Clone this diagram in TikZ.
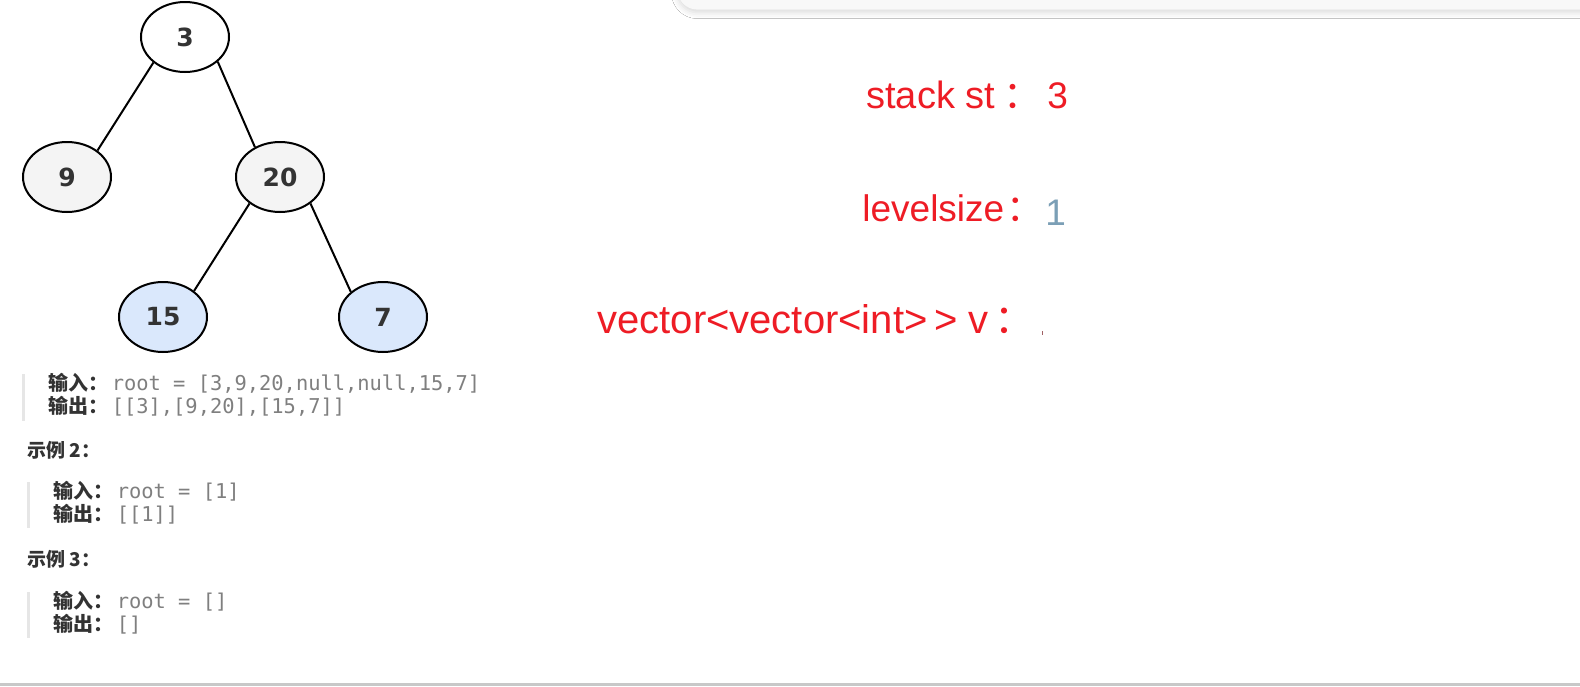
\documentclass[tikz,border=0pt]{standalone}
\usepackage{fontspec}
\setmainfont{Liberation Sans}
\newfontfamily\cjk{Noto Sans CJK SC}
\newfontfamily\code{DejaVu Sans Mono}
\newfontfamily\treefont{DejaVu Sans}
\usetikzlibrary{shapes.geometric,shadows.blur}
\usepackage{xcolor}
\definecolor{ink}{HTML}{333333}
\definecolor{codeGray}{HTML}{7F7F7F}
\definecolor{barGray}{HTML}{E6E6E6}
\definecolor{nodeGray}{HTML}{F4F4F4}
\definecolor{nodeBlue}{HTML}{DAE8FC}
\definecolor{alert}{HTML}{EE1C25}
\definecolor{valueBlue}{HTML}{7B9FB6}
\definecolor{panel}{HTML}{F8F8F8}
\definecolor{rule}{HTML}{C8C8C8}
\newcommand{\iolabel}[1]{{\cjk\bfseries\fontsize{10}{12}\selectfont\color{ink}#1}\,}
\tikzset{
  tnode/.style={ellipse, draw=black, line width=1pt, minimum width=44pt, minimum height=35pt, inner sep=0pt, font=\treefont\bfseries\fontsize{12.5}{15}\selectfont, text=ink},
  branch/.style={line width=1pt, draw=black},
  io/.style={anchor=base west, inner sep=0pt, text=codeGray, font=\code\fontsize{10.2}{12}\selectfont},
  example/.style={anchor=base west, inner sep=0pt, text=ink, font=\cjk\bfseries\fontsize{9.5}{11}\selectfont},
  quote/.style={fill=barGray},
  watch/.style={anchor=base west, inner sep=0pt, text=alert, font=\fontsize{19}{23}\selectfont},
  value/.style={watch, text=#1, font=\fontsize{18.5}{22}\selectfont},
}

\begin{document}
\begin{tikzpicture}[x=0.5pt,y=-0.5pt]
  \useasboundingbox (0,0) rectangle (1580,686);
  \fill[white] (0,0) rectangle (1580,686);

  \node[draw=none, fill=panel, rounded corners=10pt, minimum width=470pt, minimum height=20pt, anchor=south west, blur shadow={shadow xshift=0pt, shadow yshift=-1.5pt, shadow blur radius=3pt, shadow opacity=15}] (panel) at (677,10) {};

  \node[tnode, fill=white] (n3) at (185,37) {3};
  \node[tnode, fill=nodeGray] (n9) at (67,177) {9};
  \node[tnode, fill=nodeGray] (n20) at (280,177) {20};
  \node[tnode, fill=nodeBlue] (n15) at (163,317) {15};
  \node[tnode, fill=nodeBlue] (n7) at (383,317) {7};

  \draw[branch] (n3.219) -- (n9.41);
  \draw[branch] (n3.323) -- (n20.130);
  \draw[branch] (n20.221) -- (n15.40);
  \draw[branch] (n20.319) -- (n7.142);

  \fill[quote] (22,374) rectangle (25,421);
  \node[io] (in1) at (48,390) {\iolabel{输入：}root = [3,9,20,null,null,15,7]};
  \node[io] (out1) at (48,413) {\iolabel{输出：}[[3],[9,20],[15,7]]};
  \node[example] (ex2) at (27,457) {示例 2：};
  \fill[quote] (27,482) rectangle (30,528);
  \node[io] (in2) at (53,498) {\iolabel{输入：}root = [1]};
  \node[io] (out2) at (53,521) {\iolabel{输出：}[[1]]};
  \node[example] (ex3) at (27,566) {示例 3：};
  \fill[quote] (27,592) rectangle (30,638);
  \node[io] (in3) at (53,608) {\iolabel{输入：}root = []};
  \node[io] (out3) at (53,631) {\iolabel{输出：}[]};

  \node[watch] (st) at (866,108) {stack st\hspace{4pt}{\cjk ：}};
  \node[value=alert] (stval) at (1047,108) {3};
  \node[watch, font=\fontsize{18.5}{22}\selectfont] (lv) at (862,221) {levelsize\hspace{1pt}{\cjk ：}};
  \node[value=valueBlue] (lvval) at (1045,225) {1};
  \node[watch, font=\fontsize{20}{24}\selectfont] (vec) at (597,333) {vector<vector<int>\,> v\hspace{3pt}{\cjk ：}};
  \draw[codeGray!70!alert, line width=0.5pt] (1042,331) -- (1042,335);

  \fill[rule] (0,683) rectangle (1580,686);
\end{tikzpicture}
\end{document}
